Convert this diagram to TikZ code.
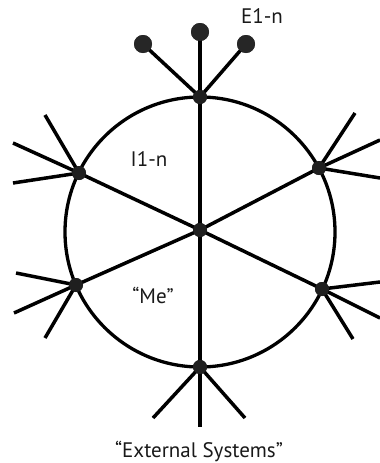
\documentclass[tikz,border=0pt]{standalone}
\usepackage{fontspec}
\setmainfont{PT Sans}
\usepackage{tikz}
\usetikzlibrary{positioning}

\begin{document}
\begin{tikzpicture}[
        x=1pt, y=-1pt,
        line/.style={line width=3.5pt, color=black},
        ring/.style={circle, draw=black, line width=3.3pt, minimum size=270pt, inner sep=0pt},
        hub/.style={circle, fill=black!88, minimum size=14pt, inner sep=0pt},
        enddot/.style={circle, fill=black!85, minimum size=18pt, inner sep=0pt},
        label/.style={font=\fontsize{21}{23}\selectfont, text=black!90}
    ]
        \useasboundingbox (0,0) rectangle (380,463);

        % the system boundary
        \node[ring] (sys) at (200,232) {};

        % interfaces on the boundary and the core
        \node[hub] (me) at (200,230) {};
        \node[hub] (top) at (200,97) {};
        \node[hub] (ur) at (319,168) {};
        \node[hub] (lr) at (322,289) {};
        \node[hub] (bot) at (200,367) {};
        \node[hub] (ll) at (76,285) {};
        \node[hub] (ul) at (79,173) {};

        % external ends
        \node[enddot] (e1) at (143,44) {};
        \node[enddot] (e2) at (200,32) {};
        \node[enddot] (e3) at (246,44) {};
        \coordinate (ul1) at (45,115);
        \coordinate (ul2) at (13,143);
        \coordinate (ul3) at (13,183);
        \coordinate (ur1) at (355,113);
        \coordinate (ur2) at (380,140);
        \coordinate (ur3) at (380,178);
        \coordinate (ll1) at (16,273);
        \coordinate (ll2) at (14,313);
        \coordinate (ll3) at (45,338);
        \coordinate (lr1) at (380,282);
        \coordinate (lr2) at (380,318);
        \coordinate (lr3) at (353,339);
        \coordinate (b1) at (153,418);
        \coordinate (b2) at (200,427);
        \coordinate (b3) at (245,418);

        % spokes from the core
        \foreach \v in {top,ur,lr,bot,ll,ul}
            \draw[line] (me.center) -- (\v.center);

        % links to the outside
        \draw[line] (top.center) -- (e1.center);
        \draw[line] (top.center) -- (e2.center);
        \draw[line] (top.center) -- (e3.center);
        \foreach \k in {1,2,3} {
            \draw[line] (ul.center) -- (ul\k);
            \draw[line] (ur.center) -- (ur\k);
            \draw[line] (ll.center) -- (ll\k);
            \draw[line] (lr.center) -- (lr\k);
            \draw[line] (bot.center) -- (b\k);
        }

        % dots drawn again on top
        \foreach \v in {me,top,ur,lr,bot,ll,ul}
            \fill[black!88] (\v) circle (7pt);
        \foreach \v in {e1,e2,e3}
            \fill[black!85] (\v) circle (9pt);

        % labels
        \node[label] (ext) at (262,16) {E1-n};
        \node[label] (int) at (149,159) {I1-n};
        \node[label] (self) at (153,295) {“Me”};
        \node[label] (outside) at (199,451) {“External Systems”};
    \end{tikzpicture}
\end{document}
